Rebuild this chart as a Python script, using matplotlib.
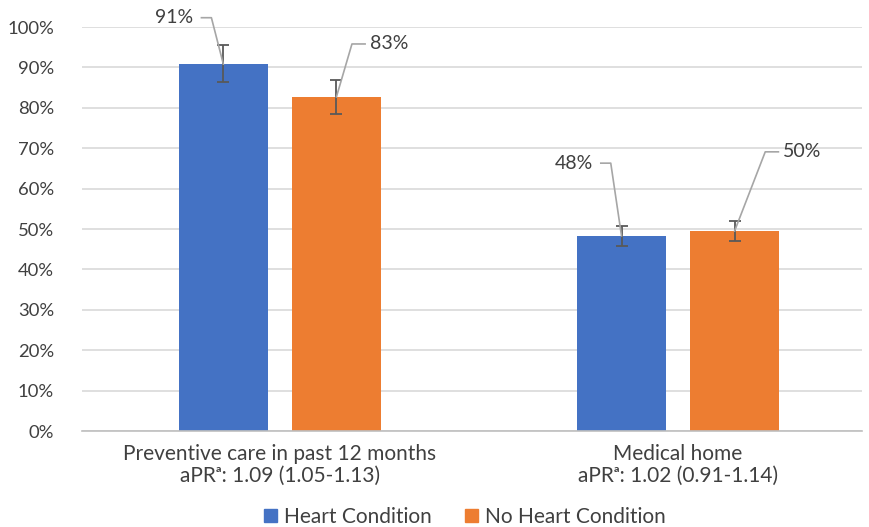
import numpy as np
import matplotlib
matplotlib.use("Agg")
import matplotlib.pyplot as plt
from matplotlib.patches import Patch

plt.rcParams["font.family"] = ["Lato", "DejaVu Sans"]

categories = ["Preventive care in past 12 months\naPR\u1d43: 1.09 (1.05-1.13)",
              "Medical home\naPR\u1d43: 1.02 (0.91-1.14)"]
series = ["Heart Condition", "No Heart Condition"]
values = {
    "Heart Condition": [90.8, 48.3],
    "No Heart Condition": [82.7, 49.5],
}
ci_low = {
    "Heart Condition": [86.4, 45.8],
    "No Heart Condition": [78.5, 47.0],
}
ci_high = {
    "Heart Condition": [95.5, 50.7],
    "No Heart Condition": [86.9, 52.0],
}
labels = {
    "Heart Condition": ["91%", "48%"],
    "No Heart Condition": ["83%", "50%"],
}
colors = {"Heart Condition": "#4472C4", "No Heart Condition": "#ED7D31"}

# label placement: x offset from bar centre (data units), y of label
label_pos = {
    "Heart Condition": [(-0.075, 102.3), (-0.072, 66.3)],
    "No Heart Condition": [(0.084, 95.8), (0.122, 69.1)],
}

fig = plt.figure(figsize=(8.69, 5.27), dpi=100)
ax = fig.add_axes([82 / 869, 1 - 431 / 527, (862 - 82) / 869, (431 - 27) / 527])

x = np.arange(len(categories))
width = 0.224
offsets = {"Heart Condition": -0.142, "No Heart Condition": 0.142}
txt = "#404040"

for s in series:
    xs = x + offsets[s]
    v = np.array(values[s])
    lo = v - np.array(ci_low[s])
    hi = np.array(ci_high[s]) - v
    ax.bar(xs, v, width, color=colors[s], zorder=2)
    ax.errorbar(xs, v, yerr=[lo, hi], fmt="none", ecolor="#595959",
                elinewidth=1.3, capsize=4, capthick=1.3, zorder=3)
    for i in range(len(xs)):
        dx, ly = label_pos[s][i]
        lx = xs[i] + dx
        if dx < 0:
            ax.text(lx, ly, labels[s][i], ha="right", va="center",
                    fontsize=14, color=txt, clip_on=False)
            pts_x = [lx + 0.02, lx + 0.045, xs[i]]
        else:
            ax.text(lx, ly, labels[s][i], ha="left", va="center",
                    fontsize=14, color=txt, clip_on=False)
            pts_x = [lx - 0.012, lx - 0.045, xs[i]]
        ax.plot(pts_x, [ly, ly, v[i]], color="#A6A6A6", lw=1.2, zorder=4,
                clip_on=False)

ax.set_xlim(-0.497, 1.462)
ax.set_ylim(0, 100)
ax.set_yticks(np.arange(0, 101, 10))
ax.set_yticklabels([f"{t}%" for t in range(0, 101, 10)], fontsize=13.3,
                   color=txt)
ax.set_xticks(x)
ax.set_xticklabels(categories, fontsize=15, color=txt, linespacing=1.15)
ax.tick_params(axis="x", length=0, pad=9)
ax.tick_params(axis="y", length=0, pad=20)
ax.grid(axis="y", color="#D9D9D9", lw=1.2, zorder=0)
for side in ["top", "right", "left"]:
    ax.spines[side].set_visible(False)
ax.spines["bottom"].set_color("#BFBFBF")
ax.spines["bottom"].set_linewidth(1.2)

handles = [Patch(color=colors[s], label=s) for s in series]
fig.legend(handles=handles, loc="lower center", ncol=2, frameon=False,
           fontsize=15, bbox_to_anchor=(0.535, -0.035), handlelength=0.6,
           handleheight=0.6, handletextpad=0.35, columnspacing=1.6,
           labelcolor=txt)

fig.savefig("out.png", dpi=100)
